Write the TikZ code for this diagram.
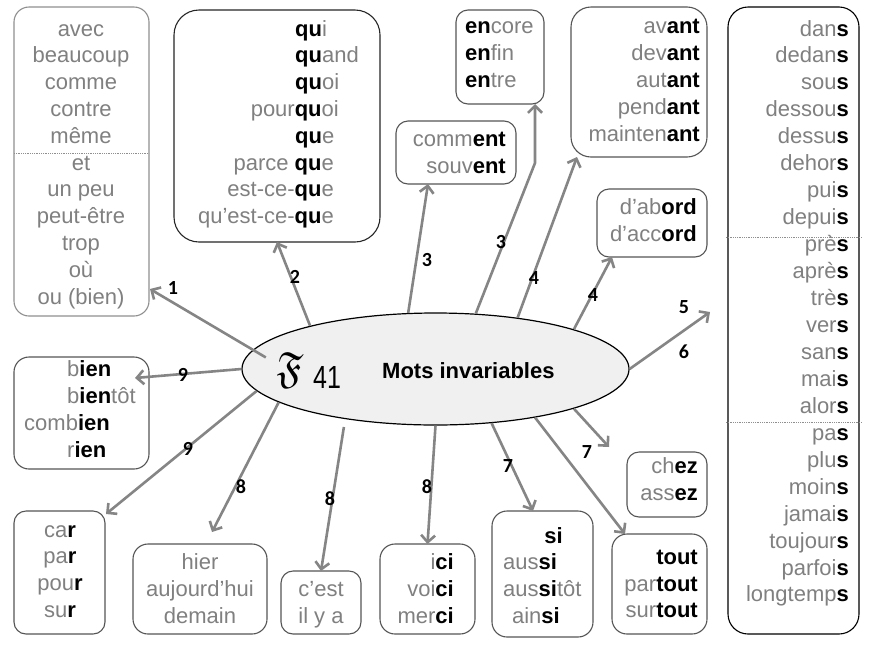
\documentclass[tikz,border=0pt]{standalone}
\usepackage{fontspec}
\usepackage{amssymb}
\setmainfont{Liberation Sans}
\newfontfamily\lblfont{Carlito}
\usetikzlibrary{arrows.meta,calc,shapes.geometric}
\definecolor{wordgray}{HTML}{808080}
\definecolor{arrowgray}{HTML}{858585}
\definecolor{boxline}{HTML}{555555}
\definecolor{lightline}{HTML}{8F8F8F}
\definecolor{ellfill}{HTML}{F0F0F0}
\newcommand{\bk}[1]{\textcolor{black}{\bfseries #1}}
\begin{document}
\begin{tikzpicture}[x=1pt,y=-1pt,
  wbox/.style={draw=boxline,line width=1.1pt,rounded corners=#1,anchor=north west,outer sep=0pt,inner sep=0pt},
  wbox/.default=12pt,
  wd/.style={font=\fontsize{22}{26}\selectfont,text=wordgray,inner sep=0pt},
  lbl/.style={font=\lblfont\bfseries\fontsize{20}{20}\selectfont,inner sep=0pt},
  arr/.style={draw=arrowgray,line width=2.6pt,-{Straight Barb[length=7pt,width=14pt]}},
  sepline/.style={draw=lightline,line width=0.8pt,densely dotted}]
\fill[white] (0,0) rectangle (872,646);
\useasboundingbox (0,0) rectangle (872,646);

% boxes
\node[wbox=15pt,draw=lightline,minimum width=135pt,minimum height=309pt] (A) at (14,7) {};
\node[wbox=25pt,draw=black!85,minimum width=206pt,minimum height=232pt] (B) at (174,10) {};
\node[wbox=12pt,minimum width=88pt,minimum height=94pt] (C) at (456,10) {};
\node[wbox=12pt,minimum width=120pt,minimum height=63pt] (D) at (396,121) {};
\node[wbox=20pt,minimum width=136pt,minimum height=150pt] (E) at (571,7) {};
\node[wbox=12pt,minimum width=110pt,minimum height=68pt] (F) at (597,189) {};
\node[wbox=20pt,draw=black,minimum width=131pt,minimum height=627pt] (G) at (728,7) {};
\node[wbox=15pt,minimum width=135pt,minimum height=112pt] (H) at (14,357) {};
\node[wbox=12pt,minimum width=91pt,minimum height=123pt] (I) at (14,511) {};
\node[wbox=15pt,minimum width=134pt,minimum height=90pt] (J) at (133,544) {};
\node[wbox=12pt,minimum width=80pt,minimum height=63pt] (K) at (281,571) {};
\node[wbox=15pt,minimum width=95pt,minimum height=90pt] (L) at (380,544) {};
\node[wbox=15pt,minimum width=101pt,minimum height=126pt] (M) at (492,511) {};
\node[wbox=12pt,minimum width=80pt,minimum height=65pt] (N) at (627,452) {};
\node[wbox=15pt,minimum width=95pt,minimum height=100pt] (O) at (612,534) {};

% separators
\draw[sepline] (A.west |- 0,153) -- (A.east |- 0,153);
\draw[sepline] (726,237) -- (862,237);
\draw[sepline] (726,422) -- (862,422);

% box A
\foreach \w [count=\k from 0] in {avec,beaucoup,comme,contre,même,et,un peu,peut-être,trop,où,ou (bien)}
  \node[wd,anchor=base] (A-\k) at (81,{36+26.8*\k}) {\w};

% box B
\node[wd,anchor=base west] (B-0) at (295,36) {\bk{qu}i};
\node[wd,anchor=base west] (B-1) at (295,62.8) {\bk{qu}and};
\node[wd,anchor=base west] (B-2) at (295,89.6) {\bk{qu}oi};
\node[wd,anchor=base east] (B-3) at (339,116.4) {pour\bk{qu}oi};
\node[wd,anchor=base west] (B-4) at (295,143.2) {\bk{qu}e};
\node[wd,anchor=base east] (B-5) at (334,170) {parce \bk{qu}e};
\node[wd,anchor=base east] (B-6) at (334,196.8) {est-ce-\bk{qu}e};
\node[wd,anchor=base east] (B-7) at (334,223.6) {qu’est-ce-\bk{qu}e};

% box C
\node[wd,anchor=base west] (C-0) at (465,33) {\bk{en}core};
\node[wd,anchor=base west] (C-1) at (465,60) {\bk{en}fin};
\node[wd,anchor=base west] (C-2) at (465,87) {\bk{en}tre};

% box D
\node[wd,anchor=base east] (D-0) at (506,146) {comm\bk{ent}};
\node[wd,anchor=base east] (D-1) at (506,173) {souv\bk{ent}};

% box E
\foreach \w [count=\k from 0] in {av,dev,aut,pend,mainten}
  \node[wd,anchor=base east] (E-\k) at (700,{33+27*\k}) {\w\bk{ant}};

% box F
\node[wd,anchor=base east] (F-0) at (697,214) {d’ab\bk{ord}};
\node[wd,anchor=base east] (F-1) at (697,241) {d’acc\bk{ord}};

% box G
\foreach \w [count=\k from 0] in {dan,dedan,sou,dessou,dessu,dehor,pui,depui,prè,aprè,trè,ver,san,mai,alor,pa,plu,moin,jamai,toujour,parfoi,longtemp}
  \node[wd,anchor=base east] (G-\k) at (849,{36+26.95*\k}) {\w\bk{s}};

% box H
\node[wd,anchor=base west] (H-0) at (67,376) {b\bk{ien}};
\node[wd,anchor=base west] (H-1) at (67,403) {b\bk{ien}tôt};
\node[wd,anchor=base east] (H-2) at (110,430) {comb\bk{ien}};
\node[wd,anchor=base west] (H-3) at (67,457) {r\bk{ien}};

% box I
\foreach \w [count=\k from 0] in {ca,pa,pou,su}
  \node[wd,anchor=base] (I-\k) at (60,{537+26.8*\k}) {\w\bk{r}};

% box J
\foreach \w [count=\k from 0] in {hier,aujourd’hui,demain}
  \node[wd,anchor=base] (J-\k) at (200,{569+27*\k}) {\w};

% box K
\node[wd,anchor=base] (K-0) at (321,596) {c’est};
\node[wd,anchor=base] (K-1) at (321,623) {il y a};

% box L
\foreach \w [count=\k from 0] in {i,voi,mer}
  \node[wd,anchor=base east] (L-\k) at (454,{569+27*\k}) {\w\bk{ci}};

% box M
\node[wd,anchor=base east] (M-0) at (563,543) {\bk{si}};
\node[wd,anchor=base west] (M-1) at (503,569) {aus\bk{si}};
\node[wd,anchor=base west] (M-2) at (503,596) {aus\bk{si}tôt};
\node[wd,anchor=base east] (M-3) at (560,623) {ain\bk{si}};

% box N
\node[wd,anchor=base east] (N-0) at (698,473) {ch\bk{ez}};
\node[wd,anchor=base east] (N-1) at (698,500) {ass\bk{ez}};

% box O
\node[wd,anchor=base east] (O-0) at (698,564) {\bk{tout}};
\node[wd,anchor=base east] (O-1) at (698,591) {par\bk{tout}};
\node[wd,anchor=base east] (O-2) at (698,617) {sur\bk{tout}};

% central ellipse
\node[ellipse,draw=black,fill=ellfill,line width=1.2pt,minimum width=387pt,minimum height=112pt,inner sep=0pt] (core) at (435.5,369) {};

% free ends
\coordinate (e1) at (150,289);
\coordinate (bend3) at (535,163);
\coordinate (e56) at (710,312);
\coordinate (e7c) at (609,447);
\coordinate (e8a) at (212,532);
\coordinate (e9b) at (106,514);
\coordinate (e9a) at (135,378);

% arrows
\draw[arr,shorten <=-15pt] (core.174) -- (e1);
\draw[arr] (core.161) -- (B.south);
\draw[arr] (core.116) -- ($(D.south west)+(32,0)$);
\draw[arr] (core.54) -- (bend3) -- ($(C.south east)+(-9,0)$);
\draw[arr] (core.32) -- ($(E.south west)+(6,0)$);
\draw[arr] (core.16) -- ($(F.south west)+(15,0)$);
\draw[arr] (core.east) -- (e56);
\draw[arr] (core.344) -- (e7c);
\draw[arr] (core.334) -- ($(O.north west)+(13,0)$);
\draw[arr] (core.316) -- ($(M.north west)+(41,0)$);
\draw[arr] (core.south) -- (L.north);
\draw[arr,shorten <=8pt] (core.209) -- (K.north);
\draw[arr] (core.192) -- (e8a);
\draw[arr] (core.187) -- (e9b);
\draw[arr] (core.west) -- (e9a);

% ellipse texts
\node[inner sep=0pt,font=\fontsize{24.88}{26}\selectfont] (frak) at (290,370) {\scalebox{1.75}{$\mathfrak{F}$}};
\node[inner sep=0pt,anchor=base west,font=\fontsize{32}{32}\selectfont] (num) at (313,388) {\scalebox{0.78}[1]{41}};
\node[inner sep=0pt,anchor=base west,font=\bfseries\fontsize{22}{26}\selectfont] (title) at (382,378) {Mots invariables};

% labels
\node[lbl] (l1) at (173,288) {1};
\node[lbl] (l2) at (295,277) {2};
\node[lbl] (l3a) at (427,260) {3};
\node[lbl] (l3b) at (501,242) {3};
\node[lbl] (l4a) at (534,278) {4};
\node[lbl] (l4b) at (593,295) {4};
\node[lbl] (l5) at (684,307) {5};
\node[lbl] (l6) at (684,352) {6};
\node[lbl] (l9a) at (183,375) {9};
\node[lbl] (l9b) at (188,449) {9};
\node[lbl] (l8a) at (241,487) {8};
\node[lbl] (l8b) at (330,499) {8};
\node[lbl] (l8c) at (427,487) {8};
\node[lbl] (l7a) at (508,466) {7};
\node[lbl] (l7b) at (587,452) {7};
\end{tikzpicture}
\end{document}
